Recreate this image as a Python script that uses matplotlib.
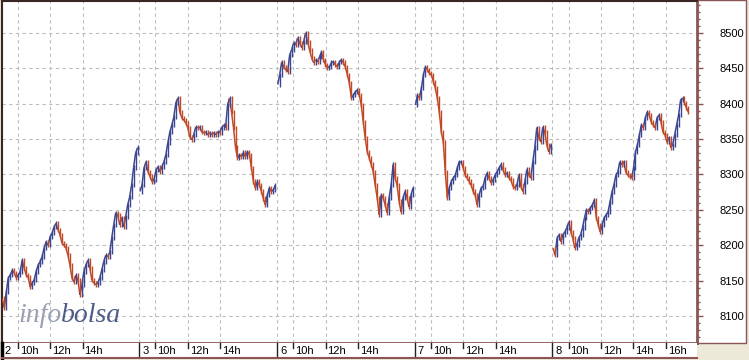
import numpy as np
import matplotlib.pyplot as plt
from matplotlib.collections import LineCollection
from matplotlib.patches import Rectangle
from matplotlib.ticker import MultipleLocator

plt.rcParams['font.family'] = ['Liberation Sans', 'DejaVu Sans']

# sesiones (dia del mes) y cierres aproximados cada ~7.5 minutos
days = ['2', '3', '6', '7', '8']
day2 = [8125, 8112, 8134, 8154, 8158, 8165, 8161, 8154, 8158, 8163,
        8179, 8168, 8158, 8155, 8141, 8147, 8151, 8163, 8172, 8177,
        8184, 8196, 8205, 8200, 8212, 8217, 8226, 8231, 8222, 8215,
        8203, 8200, 8196, 8186, 8172, 8154, 8148, 8158, 8151, 8130,
        8144, 8163, 8172, 8179, 8168, 8151, 8147, 8144, 8147, 8154,
        8165, 8177, 8186, 8184, 8190, 8210, 8229, 8246, 8243, 8229,
        8239, 8226, 8240, 8257, 8268, 8285, 8310, 8330, 8338]
day3 = [8276, 8285, 8309, 8318, 8304, 8297, 8290, 8292, 8306, 8311,
        8304, 8311, 8318, 8328, 8345, 8360, 8370, 8381, 8401, 8408,
        8388, 8380, 8377, 8373, 8366, 8353, 8349, 8356, 8367, 8366,
        8367, 8360, 8359, 8360, 8356, 8359, 8356, 8359, 8356, 8360,
        8359, 8366, 8370, 8366, 8398, 8408, 8388, 8366, 8338, 8323,
        8328, 8325, 8331, 8325, 8332, 8328, 8309, 8290, 8281, 8290,
        8285, 8276, 8266, 8257, 8271, 8281, 8276, 8278, 8285]
day6 = [8427, 8441, 8459, 8452, 8448, 8445, 8469, 8476, 8486, 8483,
        8493, 8486, 8479, 8487, 8500, 8487, 8476, 8465, 8458, 8462,
        8459, 8466, 8473, 8462, 8455, 8451, 8452, 8458, 8459, 8455,
        8452, 8459, 8462, 8458, 8452, 8441, 8429, 8408, 8412, 8417,
        8419, 8412, 8398, 8374, 8351, 8332, 8323, 8314, 8304, 8285,
        8267, 8243, 8271, 8267, 8257, 8246, 8267, 8285, 8314, 8295,
        8285, 8262, 8247, 8267, 8276, 8267, 8254, 8271, 8281]
day7 = [8398, 8412, 8408, 8422, 8441, 8452, 8448, 8443, 8441, 8431,
        8422, 8408, 8388, 8360, 8346, 8304, 8267, 8281, 8290, 8295,
        8299, 8309, 8318, 8318, 8309, 8299, 8295, 8290, 8285, 8276,
        8271, 8257, 8271, 8281, 8283, 8295, 8302, 8295, 8288, 8292,
        8299, 8304, 8309, 8314, 8307, 8299, 8302, 8295, 8292, 8283,
        8281, 8285, 8299, 8283, 8276, 8290, 8307, 8299, 8295, 8318,
        8338, 8366, 8352, 8346, 8367, 8360, 8342, 8332, 8342]
day8 = [8196, 8186, 8210, 8215, 8205, 8215, 8219, 8225, 8233, 8219,
        8210, 8196, 8200, 8210, 8215, 8225, 8239, 8250, 8247, 8253,
        8257, 8264, 8239, 8229, 8219, 8229, 8239, 8243, 8247, 8261,
        8275, 8285, 8299, 8304, 8318, 8314, 8318, 8304, 8299, 8297,
        8295, 8309, 8332, 8342, 8356, 8370, 8366, 8380, 8388, 8384,
        8374, 8370, 8366, 8380, 8384, 8374, 8360, 8356, 8346, 8352,
        8338, 8342, 8356, 8370, 8384, 8405, 8408, 8401, 8394, 8388]
closes = [day2, day3, day6, day7, day8]
hour_ticks = [10, 12, 14]
last_hour_ticks = [10, 12, 14, 16]
y_ticks = list(range(8100, 8501, 50))

SESSION = 8.5          # 9:00 - 17:30
UP, DOWN = '#3B4590', '#C04A28'
BROWN = '#8B5555'
DARK = '#3A2525'

W, H = 749, 360
fig = plt.figure(figsize=(W / 100, H / 100), dpi=100, facecolor='#ECE9D8')


def box(x0, y0, x1, y1):
    # caja en pixeles (origen arriba a la izquierda) -> fraccion de figura
    return [x0 / W, 1 - y1 / H, (x1 - x0) / W, (y1 - y0) / H]


# panel blanco de la escala derecha
fig.add_artist(Rectangle((697 / W, 1 - 343 / H), 49 / W, 343 / H,
                         transform=fig.transFigure, facecolor='white',
                         edgecolor=BROWN, lw=1, zorder=-1))

ax = fig.add_axes(box(1.5, 1, 697, 343))
ax.set_xlim(0, 42.93)
ax.set_ylim(8062, 8545)

# barras: trazo entre cierres + barra vertical del rango de cada intervalo
segs, bars, cols = [], [], []
for d, c in enumerate(closes):
    t = d * SESSION + np.linspace(0.05, 8.4, len(c))
    for i in range(1, len(c)):
        segs.append([(t[i - 1], c[i - 1]), (t[i], c[i])])
        lo, hi = min(c[i - 1], c[i]), max(c[i - 1], c[i])
        bars.append([(t[i], lo - 3), (t[i], hi + 3)])
        cols.append(UP if c[i] >= c[i - 1] else DOWN)
ax.add_collection(LineCollection(segs, colors=cols, linewidths=1.1, zorder=3))
ax.add_collection(LineCollection(bars, colors=cols, linewidths=1.0, zorder=3))

# rejilla: inicio de sesion + horas
grid_x = []
for d in range(len(days)):
    hrs = last_hour_ticks if d == len(days) - 1 else hour_ticks
    grid_x.append(d * SESSION)
    grid_x += [d * SESSION + h - 9 for h in hrs]
ax.set_xticks(grid_x)
ax.tick_params(axis='x', length=0, labelbottom=False)
ax.set_yticks(y_ticks)
ax.yaxis.set_minor_locator(MultipleLocator(10))
ax.yaxis.tick_right()
ax.tick_params(axis='y', which='major', length=4, width=1, color=BROWN,
               pad=12, labelsize=8)
ax.tick_params(axis='y', which='minor', length=2.5, width=1, color=BROWN)
ax.grid(True, ls=(0, (3, 3)), color='#BDBDBD', lw=0.8)
ax.set_axisbelow(True)
for s in ['top', 'left']:
    ax.spines[s].set_color(DARK)
    ax.spines[s].set_linewidth(1.5)
for s in ['right', 'bottom']:
    ax.spines[s].set_color(BROWN)
    ax.spines[s].set_linewidth(2)

# franja inferior con dias y horas
sax = fig.add_axes(box(1.5, 343, 697, 358))
sax.set_xlim(ax.get_xlim())
sax.set_ylim(0, 1)
sax.set_xticks([])
sax.set_yticks([])
px = 1 / 16.2
for d, lab in enumerate(days):
    x0 = d * SESSION
    sax.axvline(x0, color='#222222', lw=1)
    sax.text(x0 + 3 * px, 0.45, lab, ha='left', va='center', fontsize=8)
    hrs = last_hour_ticks if d == len(days) - 1 else hour_ticks
    for h in hrs:
        xh = x0 + h - 9
        sax.plot([xh, xh], [1, 0.7], color='#222222', lw=1)
        sax.text(xh + 2 * px, 0.45, f'{h}h', ha='left', va='center', fontsize=8)
sax.spines['top'].set_visible(False)
sax.spines['right'].set_visible(False)
sax.spines['bottom'].set_color(BROWN)
sax.spines['bottom'].set_linewidth(1.5)
sax.spines['left'].set_color('black')
sax.spines['left'].set_linewidth(2.5)

# marca de agua
t1 = fig.text(18 / W, 1 - 322 / H, 'info', family=['Liberation Serif'],
              style='italic', size=20, color='#9AA0B4', va='baseline')
fig.canvas.draw()
bb = t1.get_window_extent()
fig.text(bb.x1 / W, 1 - 322 / H, 'bolsa', family=['Liberation Serif'],
         style='italic', size=20, color='#4E5A88', va='baseline')

fig.savefig('out.png', dpi=100, facecolor=fig.get_facecolor())
